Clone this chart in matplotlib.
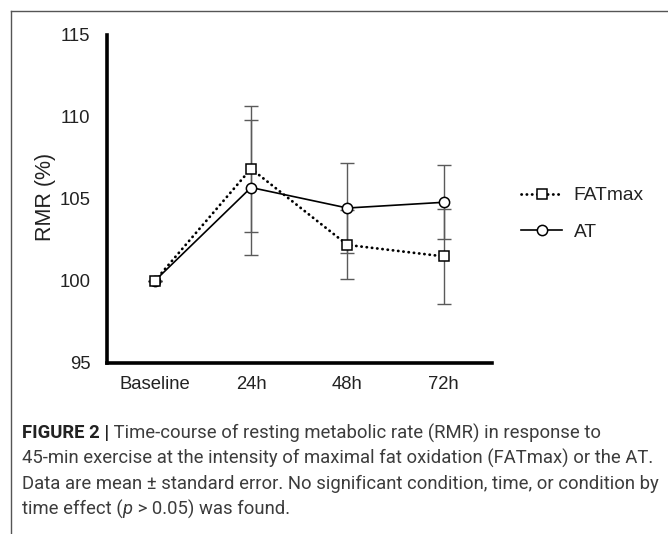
import matplotlib
matplotlib.use('Agg')
import matplotlib.pyplot as plt
from matplotlib.lines import Line2D

# ---- data ----
timepoints = ['Baseline', '24h', '48h', '72h']
fatmax_mean = [100.0, 106.85, 102.2, 101.5]
fatmax_se = [0.0, 3.85, 2.1, 2.9]
at_mean = [100.0, 105.7, 104.45, 104.8]
at_se = [0.0, 4.1, 2.75, 2.25]
y_ticks = [95, 100, 105, 110, 115]
series_labels = ['FATmax', 'AT']
caption_lines = [
    [("FIGURE 2 |", 'bold', 'normal'), (" Time-course of resting metabolic rate (RMR) in response to", 'normal', 'normal')],
    [("45-min exercise at the intensity of maximal fat oxidation (FATmax) or the AT.", 'normal', 'normal')],
    [("Data are mean \u00b1 standard error. No significant condition, time, or condition by", 'normal', 'normal')],
    [("time effect (", 'normal', 'normal'), ("p", 'normal', 'italic'), (" > 0.05) was found.", 'normal', 'normal')],
]

W, H = 668, 534
plt.rcParams['font.family'] = ['Liberation Sans', 'DejaVu Sans']
fig = plt.figure(figsize=(W / 100, H / 100), dpi=100)
fig.patch.set_facecolor('white')

# axes placement in pixels
ax_l, ax_r, ax_t, ax_b = 106.5, 492, 35, 363
ax = fig.add_axes([ax_l / W, 1 - ax_b / H, (ax_r - ax_l) / W, (ax_b - ax_t) / H])

x = list(range(len(timepoints)))
err_col = '#5a5a5a'
ax.errorbar(x, at_mean, yerr=at_se, fmt='none', ecolor=err_col, elinewidth=1.0,
            capsize=5.3, capthick=1.0, zorder=1)
ax.errorbar(x, fatmax_mean, yerr=fatmax_se, fmt='none', ecolor=err_col, elinewidth=1.0,
            capsize=5.3, capthick=1.0, zorder=1)
l_at, = ax.plot(x, at_mean, '-', color='black', lw=1.2, marker='o', ms=7.4,
                mfc='white', mec='black', mew=1.1, zorder=3, label=series_labels[1])
l_fm, = ax.plot(x, fatmax_mean, color='black', lw=2.0, linestyle=(0, (0.1, 1.8)),
                dash_capstyle='round', marker='s', ms=6.8, mfc='white', mec='black',
                mew=1.1, zorder=4, label=series_labels[0])

ax.set_xlim(-0.5, len(timepoints) - 0.5)
ax.set_ylim(y_ticks[0], y_ticks[-1])
ax.set_yticks(y_ticks)
ax.set_xticks(x)
ax.set_xticklabels(timepoints)
for s in ['top', 'right']:
    ax.spines[s].set_visible(False)
for s in ['left', 'bottom']:
    ax.spines[s].set_linewidth(2.6)
    ax.spines[s].set_color('black')
    ax.spines[s].set_capstyle('projecting')
ax.tick_params(axis='both', length=0, labelsize=13.3, labelcolor='#222222')
ax.tick_params(axis='y', pad=11.5)
ax.tick_params(axis='x', pad=9.5)
ax.set_ylabel('RMR (%)', fontsize=15.5, color='#222222', va='center')
ax.yaxis.set_label_coords((45 - ax_l) / (ax_r - ax_l), (ax_b - 197) / (ax_b - ax_t))

leg = ax.legend(handles=[l_fm, l_at], loc='upper left',
                bbox_to_anchor=(521 / W, 1 - 187 / H), bbox_transform=fig.transFigure,
                frameon=False, fontsize=13.8, handlelength=2.15, handletextpad=0.6,
                labelspacing=1.0, borderpad=0, borderaxespad=0, numpoints=1)
for t in leg.get_texts():
    t.set_color('#222222')

# frame lines (left and top)
fig.add_artist(Line2D([11 / W, 11 / W], [0, 1 - 10.5 / H], transform=fig.transFigure,
                      color='#555555', lw=1.0))
fig.add_artist(Line2D([11 / W, 1], [1 - 10.5 / H, 1 - 10.5 / H], transform=fig.transFigure,
                      color='#555555', lw=1.0))

# caption: fit font so that the third line is ~633 px wide
cap_family = ['Roboto', 'DejaVu Sans']
renderer = fig.canvas.get_renderer()
probe = fig.text(0, 0, caption_lines[2][0][0], fontsize=11, family=cap_family)
w = probe.get_window_extent(renderer).width
probe.remove()
cap_fs = 11 * 633 / w

line_y = [433, 458.5, 484, 509.5]
for segs, yy in zip(caption_lines, line_y):
    xpx = 22
    for txt, weight, style in segs:
        t = fig.text(xpx / W, 1 - yy / H, txt, fontsize=cap_fs, fontweight=weight,
                     fontstyle=style, family=cap_family,
                     color='#222222' if weight == 'bold' else '#3c3c3c',
                     ha='left', va='center')
        xpx += t.get_window_extent(renderer).width

fig.savefig('out.png', dpi=100)
